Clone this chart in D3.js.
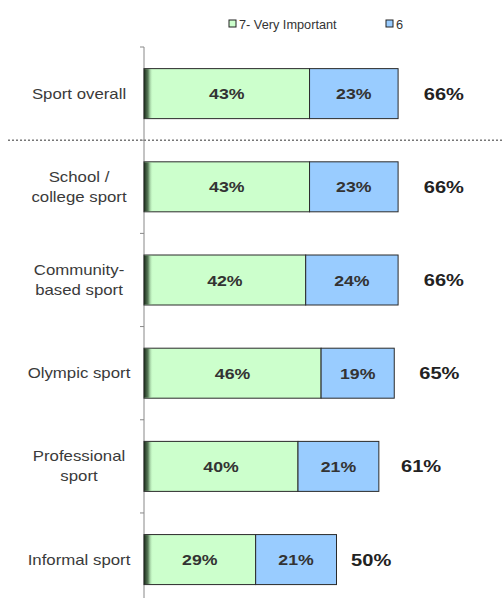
<!DOCTYPE html>
<html>
<head>
<meta charset="utf-8">
<script src="https://cdn.jsdelivr.net/npm/d3@7"></script>
<style>
  body { margin: 0; background: #fff; }
  svg { font-family: "Liberation Sans", Arial, sans-serif; }
</style>
</head>
<body>
<div id="chart"></div>
<script>
const categories = ["Sport overall", "School / college sport", "Community-based sport",
  "Olympic sport", "Professional sport", "Informal sport"];
const labelLines = [["Sport overall"], ["School /", "college sport"], ["Community-", "based sport"],
  ["Olympic sport"], ["Professional", "sport"], ["Informal sport"]];
const veryImportant = [43, 43, 42, 46, 40, 29];
const six = [23, 23, 24, 19, 21, 21];
const totals = [66, 66, 66, 65, 61, 50];
const seriesNames = ["7- Very Important", "6"];
const colors = ["#ccffcc", "#99ccff"];

const width = 503, height = 598;

const svg = d3.select("#chart").append("svg")
  .attr("width", width).attr("height", height);

const xScale = d3.scaleLinear().domain([0, 100]).range([144, 529]);
const yScale = d3.scaleBand().domain(categories).range([47, 606.2])
  .paddingInner(0.4635).paddingOuter(0.232);

const defs = svg.append("defs");
const grad = defs.append("linearGradient").attr("id", "edge");
grad.append("stop").attr("offset", "0").attr("stop-color", "#1c2a1c").attr("stop-opacity", 1);
grad.append("stop").attr("offset", "0.45").attr("stop-color", "#3c5a3c").attr("stop-opacity", 0.8);
grad.append("stop").attr("offset", "1").attr("stop-color", "#ccffcc").attr("stop-opacity", 0);

// text in the picture is drawn a bit wide, so stretch it horizontally
function stretchedText(g, x, y, txt, sx) {
  return g.append("text")
    .attr("transform", `translate(${x},${y}) scale(${sx},1)`)
    .text(txt);
}

// separator below "Sport overall"
const sepY = yScale.range()[0] + yScale.step();
svg.append("line")
  .attr("x1", 8).attr("x2", width).attr("y1", sepY).attr("y2", sepY)
  .attr("stroke", "#777").attr("stroke-width", 1.5).attr("stroke-dasharray", "2,2");

// axis with ticks at band boundaries
const axis = svg.append("g").attr("stroke", "#888").attr("stroke-width", 1);
axis.append("line")
  .attr("x1", xScale(0)).attr("x2", xScale(0))
  .attr("y1", yScale.range()[0]).attr("y2", height);
d3.range(categories.length + 1).forEach(i => {
  const y = yScale.range()[0] + i * yScale.step();
  axis.append("line").attr("x1", xScale(0) - 4).attr("x2", xScale(0))
    .attr("y1", y).attr("y2", y);
});

// category labels
categories.forEach((c, i) => {
  const lines = labelLines[i];
  const cy = yScale(c) + yScale.bandwidth() / 2;
  const g = svg.append("g").attr("font-size", 14).attr("fill", "#3a3a3a").attr("text-anchor", "middle");
  lines.forEach((ln, j) => {
    stretchedText(g, 79, cy + 5 + (j - (lines.length - 1) / 2) * 20, ln, 1.2);
  });
});

// bars
const rows = categories.map((c, i) => ({ c, a: veryImportant[i], b: six[i], t: totals[i] }));
const bars = svg.append("g").selectAll("g").data(rows).join("g");

bars.append("rect")
  .attr("x", d => xScale(0)).attr("y", d => yScale(d.c))
  .attr("width", d => xScale(d.a) - xScale(0)).attr("height", yScale.bandwidth())
  .attr("fill", colors[0]).attr("stroke", "#2a2a2a").attr("stroke-width", 1);
bars.append("rect")
  .attr("x", d => xScale(d.a)).attr("y", d => yScale(d.c))
  .attr("width", d => xScale(d.a + d.b) - xScale(d.a)).attr("height", yScale.bandwidth())
  .attr("fill", colors[1]).attr("stroke", "#2a2a2a").attr("stroke-width", 1);
bars.append("rect")
  .attr("x", d => xScale(0)).attr("y", d => yScale(d.c) + 0.5)
  .attr("width", 9).attr("height", yScale.bandwidth() - 1)
  .attr("fill", "url(#edge)");

// segment labels and totals
bars.each(function (d) {
  const cy = yScale(d.c) + yScale.bandwidth() / 2;
  const g = d3.select(this).append("g")
    .attr("font-size", 15).attr("font-weight", "bold").attr("fill", "#333").attr("text-anchor", "middle");
  stretchedText(g, (xScale(0) + xScale(d.a)) / 2, cy + 5.5, d.a + "%", 1.18);
  stretchedText(g, (xScale(d.a) + xScale(d.a + d.b)) / 2, cy + 5.5, d.b + "%", 1.18);
  const gt = d3.select(this).append("g")
    .attr("font-size", 17).attr("font-weight", "bold").attr("fill", "#222").attr("text-anchor", "middle");
  stretchedText(gt, xScale(d.t * 1.18), cy + 6, d.t + "%", 1.18);
});

// legend
const legend = svg.append("g").attr("font-size", 13).attr("fill", "#333");
const legendX = [229, 386];
seriesNames.forEach((s, i) => {
  legend.append("rect").attr("x", legendX[i]).attr("y", 20).attr("width", 7).attr("height", 7)
    .attr("fill", colors[i]).attr("stroke", "#222").attr("stroke-width", 1);
  stretchedText(legend, legendX[i] + 10, 28.5, s, 0.98);
});
</script>
</body>
</html>
